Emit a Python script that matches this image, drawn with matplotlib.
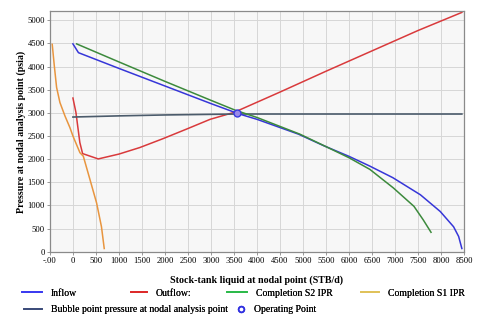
import matplotlib
matplotlib.use("Agg")
import matplotlib.pyplot as plt
from matplotlib.lines import Line2D

# Inflow / outflow curves (STB/d, psia)
inflow_q = [0, 120, 1000, 2000, 3000, 3600, 4000, 4900, 5450, 6000, 6450, 6950, 7550, 7980, 8270, 8380, 8450]
inflow_p = [4490, 4300, 3960, 3580, 3200, 2980, 2860, 2540, 2290, 2060, 1850, 1600, 1230, 870, 540, 330, 70]

outflow_q = [0, 65, 150, 210, 550, 1000, 1450, 1950, 2470, 2980, 3500, 4500, 5500, 6500, 7500, 8450]
outflow_p = [3320, 3010, 2360, 2120, 2005, 2110, 2250, 2440, 2650, 2860, 3010, 3450, 3900, 4340, 4780, 5170]

s2_q = [80, 1000, 2000, 3000, 3520, 4000, 4930, 5500, 6000, 6450, 6960, 7410, 7610, 7780]
s2_p = [4490, 4100, 3680, 3270, 3060, 2900, 2540, 2270, 2030, 1780, 1380, 980, 690, 420]

s1_q = [-450, -405, -355, -283, -174, -65, 0, 152, 225, 370, 515, 620, 680]
s1_p = [4480, 4020, 3550, 3225, 2935, 2680, 2500, 2140, 2065, 1560, 1050, 540, 70]

bubble_q = [0, 1000, 2000, 3000, 3600, 8450]
bubble_p = [2910, 2935, 2955, 2968, 2975, 2975]

op_q = [3560]
op_p = [2995]

plt.rcParams["font.family"] = ["Liberation Serif", "DejaVu Serif"]

fig = plt.figure(figsize=(4.8, 3.24), dpi=100)
ax = fig.add_axes([0.104, 0.223, 0.863, 0.743])
ax.set_facecolor("#f7f7f7")

ax.plot(outflow_q, outflow_p, color="#d93a3c", lw=1.1)
ax.plot(s1_q, s1_p, color="#e8953f", lw=1.1)
ax.plot(bubble_q, bubble_p, color="#4b5b6b", lw=1.2)
ax.plot(inflow_q, inflow_p, color="#3636d8", lw=1.1)
ax.plot(s2_q, s2_p, color="#3c8a3c", lw=1.1)
ax.plot(op_q, op_p, "o", ms=5, mfc="#9a8ae8", mec="#3a3ae0", mew=1.0)

ax.set_xlim(-500, 8500)
ax.set_ylim(0, 5200)
ax.set_xticks(range(-500, 8501, 500))
ax.set_xticklabels(["-.00"] + [str(v) for v in range(0, 8501, 500)])
ax.set_yticks(range(0, 5001, 500))
ax.tick_params(labelsize=6.2, length=2, width=0.6, color="#888888", pad=1.5)
ax.grid(True, color="#d6d6d6", lw=0.7)
ax.set_axisbelow(True)
for sp in ax.spines.values():
    sp.set_color("#8a8a8a")
    sp.set_linewidth(0.9)

ax.set_xlabel("Stock-tank liquid at nodal point (STB/d)", fontsize=7.2, fontweight="bold", labelpad=8)
ax.set_ylabel("Pressure at nodal analysis point (psia)", fontsize=7.2, fontweight="bold", labelpad=1)

# legend: flowing layout, one small legend per entry (x of key start, y centre in pixels)
W, H = 480, 324
entries = [
    (Line2D([], [], color="#3b3bf0", lw=1.3), "Inflow", 22, 293, 2.1),
    (Line2D([], [], color="#dd2a2a", lw=1.3), "Outflow:", 131, 293, 1.6),
    (Line2D([], [], color="#2cba4a", lw=1.3), "Completion S2 IPR", 227, 293, 2.1),
    (Line2D([], [], color="#e0c25a", lw=1.3), "Completion S1 IPR", 361, 293, 1.9),
    (Line2D([], [], color="#3d4d7a", lw=1.3), "Bubble point pressure at nodal analysis point", 24, 310, 1.9),
    (Line2D([], [], ls="none", marker="o", ms=4, mfc="white", mec="#3030e0", mew=1.3), "Operating Point", 237, 310, 0.9),
]
for h, lab, px, py, hl in entries:
    lg = fig.legend(handles=[h], labels=[lab], loc="center left",
                    bbox_to_anchor=(px / W, 1 - py / H), frameon=False,
                    prop={"size": 7, "weight": "normal"}, handlelength=hl,
                    handletextpad=0.9, borderpad=0, borderaxespad=0)
    fig.add_artist(lg)

fig.savefig("out.png", dpi=100)
